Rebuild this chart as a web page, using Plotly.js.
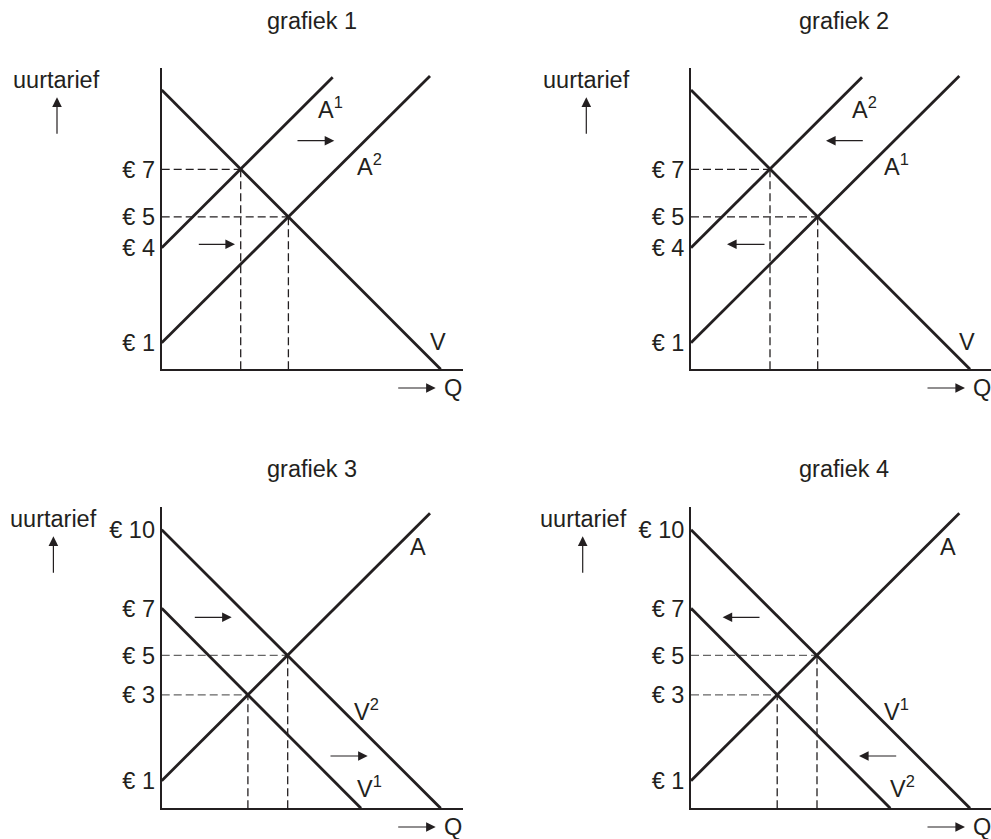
<!DOCTYPE html>
<html><head><meta charset="utf-8">
<script src="https://cdn.plot.ly/plotly-3.0.1.min.js"></script>
<style>html,body{margin:0;padding:0;background:#fff}#chart{width:991px;height:839px}</style>
</head><body><div id="chart"></div><script>
// ---------- data (schematic chart units) ----------
// grafiek 1 & 2
const ticks12Pos  = [2.66, 12.16, 15.25, 20.0];
const ticks12Text = ['€ 1', '€ 4', '€ 5', '€ 7'];
const vQ     = [0, 27.9];   const vP     = [27.93, 0];
const aHighQ = [0, 17.1];   const aHighP = [12.16, 29.2];
const aLowQ  = [0, 26.83];  const aLowP  = [2.66, 29.33];
const eq12HighQ = 7.9,  eq12HighP = 20.0;
const eq12LowQ  = 12.67, eq12LowP = 15.25;
const labels1 = ['A<sup>1</sup>', 'A<sup>2</sup>', 'V'];
const labels2 = ['A<sup>2</sup>', 'A<sup>1</sup>', 'V'];

// grafiek 3 & 4
const ticks34Pos  = [2.76, 11.35, 15.3, 20.0, 27.85];
const ticks34Text = ['€ 1', '€ 3', '€ 5', '€ 7', '€ 10'];
const vHighQ = [0, 27.9];   const vHighP = [27.85, 0];
const vLowQ  = [0, 19.93];  const vLowP  = [20.0, 0];
const aQ     = [0, 26.83];  const aP     = [2.76, 29.5];
const eq34LowQ  = 8.62,  eq34LowP  = 11.35;
const eq34HighQ = 12.6,  eq34HighP = 15.3;
const labels3 = ['A', 'V<sup>2</sup>', 'V<sup>1</sup>'];
const labels4 = ['A', 'V<sup>1</sup>', 'V<sup>2</sup>'];

const titles = ['grafiek 1', 'grafiek 2', 'grafiek 3', 'grafiek 4'];
const yLabel = 'uurtarief';
const xLabel = 'Q';

// ---------- styling ----------
const FONT = 'Liberation Sans, Arial, Helvetica, sans-serif';
const INK = '#231f20';
const FS = 23.5;
const W = 991, H = 839;

const traces = [];
const annotations = [];
const layout = {
  width: W, height: H, margin: {l: 0, r: 0, t: 0, b: 0},
  paper_bgcolor: '#fff', plot_bgcolor: 'rgba(0,0,0,0)',
  showlegend: false, hovermode: false,
  font: {family: FONT, size: FS, color: INK},
  annotations: annotations
};

// subplot pixel frames: left, right, bottom, top
const frames = [
  [161.7, 463.0, 369.3, 68.0],
  [691.0, 991.0, 369.3, 68.0],
  [161.7, 463.0, 808.3, 506.7],
  [691.0, 991.0, 808.3, 506.7]
];
const UNIT = 10; // px per chart unit

// chart units of subplot i -> paper fraction
function px(i, q) { return (frames[i][0] + q * UNIT) / W; }
function py(i, p) { return 1 - (frames[i][2] - p * UNIT) / H; }

function addLine(i, q, p, opts) {
  const s = i === 0 ? '' : String(i + 1);
  traces.push(Object.assign({
    type: 'scatter', mode: 'lines', x: q, y: p, xaxis: 'x' + s, yaxis: 'y' + s,
    line: {color: INK, width: 2.8}, hoverinfo: 'skip'
  }, opts || {}));
}
function dashed(i, q, p, col) {
  addLine(i, [0, q], [p, p], {line: {color: col, width: 1.3, dash: '8px,4px'}});
  addLine(i, [q, q], [0, p], {line: {color: INK, width: 1.3, dash: '8px,4px'}});
}
function ann(i, q, p, text, extra) {
  annotations.push(Object.assign({xref: 'paper', yref: 'paper', x: px(i, q), y: py(i, p),
    text: text, showarrow: false, xanchor: 'center', yanchor: 'middle',
    font: {family: FONT, size: FS, color: INK}}, extra || {}));
}
function arrowPaper(i, q0, p0, q1, p1) {
  annotations.push({xref: 'paper', yref: 'paper', x: px(i, q1), y: py(i, p1),
    ax: (q0 - q1) * UNIT, ay: -(p0 - p1) * UNIT, text: '', showarrow: true,
    arrowhead: 2, arrowsize: 1.6, arrowwidth: 1.2, arrowcolor: INK, standoff: 0, startstandoff: 0});
}
function arrow(i, q0, q1, p) { arrowPaper(i, q0, p, q1, p); }

frames.forEach((f, i) => {
  const s = i === 0 ? '' : String(i + 1);
  const tv = i < 2 ? ticks12Pos : ticks34Pos;
  const tt = i < 2 ? ticks12Text : ticks34Text;
  layout['xaxis' + s] = {
    domain: [f[0] / W, f[1] / W], range: [0, (f[1] - f[0]) / UNIT], anchor: 'y' + s,
    showline: true, linewidth: 2, linecolor: INK, showgrid: false, zeroline: false,
    showticklabels: false, ticks: '', fixedrange: true
  };
  layout['yaxis' + s] = {
    domain: [1 - f[2] / H, 1 - f[3] / H], range: [0, (f[2] - f[3]) / UNIT], anchor: 'x' + s,
    showline: true, linewidth: 2, linecolor: INK, showgrid: false, zeroline: false,
    ticks: '', tickmode: 'array', tickvals: tv, ticktext: tt,
    tickfont: {family: FONT, size: FS, color: INK}, ticklabelstandoff: 0, fixedrange: true
  };
  // title
  ann(i, 15.06 + (i % 2 ? 0.2 : 0), i < 2 ? 34.8 : 33.9, titles[i]);
  // y label + arrow
  ann(i, i < 2 ? -10.47 : -10.78, 28.95, yLabel);
  const xa = i < 2 ? -10.47 : -10.83;
  arrowPaper(i, xa, 23.4, xa, 27.2);
  // Q label + arrow
  ann(i, 29.1, -1.9, xLabel);
  arrow(i, 23.5, 27.4, -1.87);
});

// grafiek 1 & 2
[0, 1].forEach(i => {
  dashed(i, eq12HighQ, eq12HighP, INK);
  dashed(i, eq12LowQ, eq12LowP, INK);
  addLine(i, vQ, vP);
  addLine(i, aHighQ, aHighP);
  addLine(i, aLowQ, aLowP);
  const L = i === 0 ? labels1 : labels2;
  ann(i, i === 0 ? 16.9 : 17.3, 26.1, L[0]);
  ann(i, i === 0 ? 20.8 : 20.5, 20.4, L[1]);
  ann(i, 27.6, 2.7, L[2]);
});
arrow(0, 13.43, 17.26, 22.86);
arrow(0, 3.56, 7.33, 12.5);
arrow(1, 17.33, 13.5, 22.86);
arrow(1, 7.5, 3.6, 12.5);

// grafiek 3 & 4
[2, 3].forEach(i => {
  dashed(i, eq34HighQ, eq34HighP, '#666');
  dashed(i, eq34LowQ, eq34LowP, '#666');
  addLine(i, vHighQ, vHighP);
  addLine(i, vLowQ, vLowP);
  addLine(i, aQ, aP);
  const L = i === 2 ? labels3 : labels4;
  ann(i, 25.65, 26.15, L[0]);
  ann(i, 20.5, 9.8, L[1]);
  ann(i, i === 2 ? 20.75 : 21.1, 2.1, L[2]);
});
arrow(2, 3.16, 7.0, 19.1);
arrow(2, 16.73, 20.6, 5.23);
arrow(3, 7.0, 3.16, 19.1);
arrow(3, 20.67, 16.8, 5.23);

Plotly.newPlot('chart', traces, layout, {staticPlot: true, displayModeBar: false});
</script></body></html>
